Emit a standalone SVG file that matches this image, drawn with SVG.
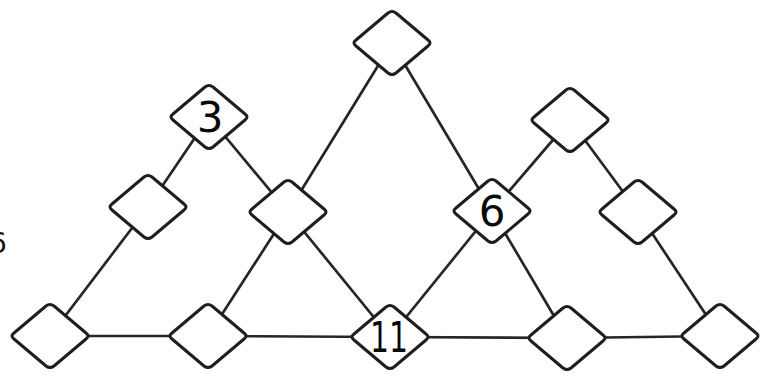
<svg xmlns="http://www.w3.org/2000/svg" width="780" height="376" viewBox="0 0 780 376">
<style>
.e{stroke:#262626;stroke-width:2.7;fill:none;stroke-linecap:round}
.n{fill:#fff;stroke:#1e1e1e;stroke-width:3;stroke-linejoin:round}
.t{font-family:"DejaVu Sans",sans-serif;font-size:42px;fill:#0a0a0a;text-anchor:middle}
</style>
<defs>
<path id="d" d="M-36,-3 Q-40,0 -36,3 L-4,30 Q0,33 4,30 L36,3 Q40,0 36,-3 L4,-30 Q0,-33 -4,-30 Z"/>
</defs>
<rect width="780" height="376" fill="#fff"/>
<g id="connectors">
<line class="e" x1="209" y1="117" x2="148" y2="207"/>
<line class="e" x1="148" y1="207" x2="50" y2="336"/>
<line class="e" x1="209" y1="117" x2="288" y2="212"/>
<line class="e" x1="288" y1="212" x2="390" y2="337"/>
<line class="e" x1="288" y1="212" x2="208" y2="336"/>
<line class="e" x1="288" y1="212" x2="392" y2="43"/>
<line class="e" x1="392" y1="43" x2="492" y2="211"/>
<line class="e" x1="492" y1="211" x2="390" y2="337"/>
<line class="e" x1="492" y1="211" x2="567" y2="338"/>
<line class="e" x1="492" y1="211" x2="570" y2="120"/>
<line class="e" x1="570" y1="120" x2="638" y2="212"/>
<line class="e" x1="638" y1="212" x2="720" y2="336"/>
<line class="e" x1="50" y1="336" x2="208" y2="336"/>
<line class="e" x1="208" y1="336" x2="390" y2="337"/>
<line class="e" x1="390" y1="337" x2="567" y2="338"/>
<line class="e" x1="567" y1="338" x2="720" y2="336"/>
</g>
<g id="n-top"><use href="#d" class="n" transform="translate(392,43)"/></g>
<g id="n-3"><use href="#d" class="n" transform="translate(209,117)"/><text class="t" x="210" y="132">3</text></g>
<g id="n-lm"><use href="#d" class="n" transform="translate(148,207)"/></g>
<g id="n-cm"><use href="#d" class="n" transform="translate(288,212)"/></g>
<g id="n-6"><use href="#d" class="n" transform="translate(492,211)"/><text class="t" x="492" y="226">6</text></g>
<g id="n-rt"><use href="#d" class="n" transform="translate(570,120)"/></g>
<g id="n-rm"><use href="#d" class="n" transform="translate(638,212)"/></g>
<g id="n-b1"><use href="#d" class="n" transform="translate(50,336)"/></g>
<g id="n-b2"><use href="#d" class="n" transform="translate(208,336)"/></g>
<g id="n-11"><use href="#d" class="n" transform="translate(390,337)"/><text class="t" x="389" y="352" textLength="38" lengthAdjust="spacingAndGlyphs">11</text></g>
<g id="n-b4"><use href="#d" class="n" transform="translate(567,338)"/></g>
<g id="n-b5"><use href="#d" class="n" transform="translate(720,336)"/></g>
<text x="-11" y="253" style="font-family:'DejaVu Sans',sans-serif;font-size:28px;fill:#111">6</text>
</svg>
